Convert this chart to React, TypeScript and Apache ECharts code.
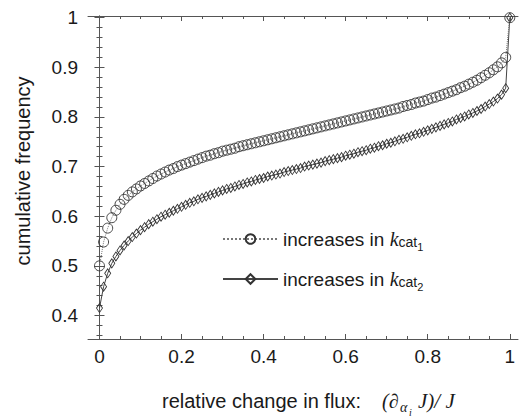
import React, { useEffect, useRef } from "react";
import * as echarts from "echarts";

const XS = [
  0, 0.01, 0.02, 0.03, 0.04, 0.05, 0.06, 0.07, 0.08, 0.09,
  0.1, 0.11, 0.12, 0.13, 0.14, 0.15, 0.16, 0.17, 0.18, 0.19,
  0.2, 0.21, 0.22, 0.23, 0.24, 0.25, 0.26, 0.27, 0.28, 0.29,
  0.3, 0.31, 0.32, 0.33, 0.34, 0.35, 0.36, 0.37, 0.38, 0.39,
  0.4, 0.41, 0.42, 0.43, 0.44, 0.45, 0.46, 0.47, 0.48, 0.49,
  0.5, 0.51, 0.52, 0.53, 0.54, 0.55, 0.56, 0.57, 0.58, 0.59,
  0.6, 0.61, 0.62, 0.63, 0.64, 0.65, 0.66, 0.67, 0.68, 0.69,
  0.7, 0.71, 0.72, 0.73, 0.74, 0.75, 0.76, 0.77, 0.78, 0.79,
  0.8, 0.81, 0.82, 0.83, 0.84, 0.85, 0.86, 0.87, 0.88, 0.89,
  0.9, 0.91, 0.92, 0.93, 0.94, 0.95, 0.96, 0.97, 0.98, 0.99,
  1,
];

const CIRCLES = [
  0.5, 0.548, 0.576, 0.597, 0.612, 0.624, 0.634, 0.642, 0.649, 0.655,
  0.661, 0.666, 0.671, 0.676, 0.681, 0.685, 0.689, 0.693, 0.696, 0.7,
  0.703, 0.706, 0.709, 0.712, 0.715, 0.718, 0.721, 0.723, 0.726, 0.728,
  0.731, 0.733, 0.735, 0.737, 0.74, 0.742, 0.744, 0.746, 0.748, 0.75,
  0.752, 0.754, 0.756, 0.758, 0.76, 0.762, 0.764, 0.766, 0.768, 0.77,
  0.772, 0.774, 0.776, 0.778, 0.78, 0.782, 0.784, 0.786, 0.788, 0.79,
  0.792, 0.794, 0.796, 0.798, 0.8, 0.802, 0.804, 0.806, 0.808, 0.81,
  0.812, 0.814, 0.816, 0.818, 0.821, 0.823, 0.825, 0.828, 0.83, 0.832,
  0.835, 0.838, 0.84, 0.843, 0.846, 0.849, 0.852, 0.855, 0.859, 0.862,
  0.866, 0.87, 0.874, 0.879, 0.884, 0.889, 0.895, 0.901, 0.909, 0.92,
  1,
];

const DIAMONDS = [
  0.415, 0.458, 0.485, 0.505, 0.519, 0.531, 0.541, 0.55, 0.558, 0.565,
  0.572, 0.578, 0.584, 0.589, 0.594, 0.599, 0.603, 0.607, 0.611, 0.615,
  0.619, 0.623, 0.627, 0.63, 0.634, 0.637, 0.64, 0.643, 0.646, 0.649,
  0.652, 0.655, 0.657, 0.66, 0.663, 0.665, 0.668, 0.67, 0.673, 0.675,
  0.677, 0.68, 0.682, 0.684, 0.686, 0.689, 0.691, 0.693, 0.695, 0.697,
  0.7, 0.702, 0.704, 0.706, 0.708, 0.711, 0.713, 0.715, 0.717, 0.719,
  0.722, 0.724, 0.726, 0.729, 0.731, 0.733, 0.736, 0.738, 0.741, 0.743,
  0.746, 0.748, 0.751, 0.754, 0.756, 0.759, 0.762, 0.765, 0.767, 0.77,
  0.773, 0.776, 0.779, 0.782, 0.785, 0.788, 0.791, 0.795, 0.798, 0.801,
  0.805, 0.808, 0.812, 0.816, 0.821, 0.826, 0.831, 0.837, 0.845, 0.858,
  1,
];

const SERIES_NAMES = ["increases in kcat1", "increases in kcat2"];
const SERIES_SUBS = ["1", "2"];

const X_LABELS = [0, 0.2, 0.4, 0.6, 0.8, 1];
const X_MINOR = [0.05, 0.1, 0.15, 0.25, 0.3, 0.35, 0.45, 0.5, 0.55, 0.65, 0.7, 0.75, 0.85, 0.9, 0.95];
const Y_LABELS = [0.4, 0.5, 0.6, 0.7, 0.8, 0.9, 1];
const Y_MINOR = [
  0.36, 0.38, 0.42, 0.44, 0.46, 0.48, 0.52, 0.54, 0.56, 0.58, 0.62, 0.64, 0.66, 0.68,
  0.72, 0.74, 0.76, 0.78, 0.82, 0.84, 0.86, 0.88, 0.92, 0.94, 0.96, 0.98,
];

const X_TITLE = "relative change in flux:";
const Y_TITLE = "cumulative frequency";

const SANS = "'Liberation Sans', Arial, Helvetica, sans-serif";
const SERIF = "'Liberation Serif', 'Times New Roman', serif";
const TEXT = "#1a1a1a";
const AXIS = "#555";

const X_MIN = -0.028;
const X_MAX = 1.02;
const Y_MIN = 0.3526;
const Y_MAX = 1.0034;

const GRID = { left: 88, right: 2, top: 16, bottom: 80 };

function xAxis(gridIndex: number, position: string, values: number[], len: number, labels: boolean, line: boolean) {
  return {
    type: "value",
    gridIndex,
    position,
    min: X_MIN,
    max: X_MAX,
    axisLine: { show: line, lineStyle: { color: AXIS, width: 1 } },
    axisTick: { show: true, inside: true, length: len, customValues: values, lineStyle: { color: AXIS, width: 1 } },
    axisLabel: labels
      ? { show: true, customValues: values, margin: 8, fontSize: 19, fontFamily: SANS, color: TEXT }
      : { show: false },
    splitLine: { show: false },
  };
}

function yAxis(gridIndex: number, position: string, values: number[], len: number, labels: boolean, line: boolean) {
  return {
    type: "value",
    gridIndex,
    position,
    min: Y_MIN,
    max: Y_MAX,
    axisLine: { show: line, lineStyle: { color: AXIS, width: 1 } },
    axisTick: { show: true, inside: true, length: len, customValues: values, lineStyle: { color: AXIS, width: 1 } },
    axisLabel: labels
      ? { show: true, customValues: values, margin: 10, fontSize: 19, fontFamily: SANS, color: TEXT }
      : { show: false },
    splitLine: { show: false },
  };
}

export default function App() {
  const ref = useRef<HTMLDivElement>(null);

  useEffect(() => {
    if (!ref.current) return;
    const chart = echarts.init(ref.current, null, { renderer: "svg" });

    const circleData = XS.map((x, i) => [x, CIRCLES[i]]);
    const diamondData = XS.map((x, i) => [x, DIAMONDS[i]]);

    const mathStyle = (text: string, size: number) => ({
      text,
      fontSize: size,
      fontFamily: SERIF,
      fontStyle: "italic",
      fill: TEXT,
      align: "left",
      verticalAlign: "middle",
      textAlign: "left",
      textVerticalAlign: "middle",
    });

    chart.setOption({
      animation: false,
      backgroundColor: "#fff",
      grid: [
        { ...GRID, containLabel: false },
        { ...GRID, containLabel: false },
      ],
      xAxis: [
        xAxis(0, "bottom", X_LABELS, 5, true, true),
        xAxis(0, "top", X_LABELS, 5, false, true),
        xAxis(1, "bottom", X_MINOR, 3, false, false),
        xAxis(1, "top", X_MINOR, 3, false, false),
      ],
      yAxis: [
        yAxis(0, "left", Y_LABELS, 5, true, true),
        yAxis(0, "right", Y_LABELS, 5, false, true),
        yAxis(1, "left", Y_MINOR, 3, false, false),
        yAxis(1, "right", Y_MINOR, 3, false, false),
      ],
      legend: {
        orient: "vertical",
        left: 222,
        top: 229,
        padding: 0,
        itemGap: 17,
        itemWidth: 55,
        itemHeight: 12,
        data: SERIES_NAMES,
        formatter: (name: string) => {
          const idx = SERIES_NAMES.indexOf(name);
          return `increases in {k|k}{c|cat}{s|${SERIES_SUBS[idx]}}`;
        },
        textStyle: {
          fontSize: 19,
          fontFamily: SANS,
          color: TEXT,
          rich: {
            k: { fontSize: 20, fontFamily: SERIF, fontStyle: "italic", color: TEXT },
            c: { fontSize: 14, fontFamily: SANS, color: TEXT, padding: [6, 0, 0, 0] },
            s: { fontSize: 11, fontFamily: SANS, color: TEXT, padding: [15, 0, 0, 0] },
          },
        },
      },
      series: [
        {
          name: SERIES_NAMES[0],
          type: "line",
          xAxisIndex: 0,
          yAxisIndex: 0,
          data: circleData,
          clip: false,
          symbol: "circle",
          symbolSize: 10,
          showAllSymbol: true,
          lineStyle: { color: "#777", width: 1, type: "dotted" },
          itemStyle: { color: "rgba(255,255,255,0)", borderColor: "#333", borderWidth: 0.9 },
          emphasis: { disabled: true },
          z: 3,
        },
        {
          name: SERIES_NAMES[1],
          type: "line",
          xAxisIndex: 0,
          yAxisIndex: 0,
          data: diamondData,
          clip: false,
          symbol: "diamond",
          symbolSize: [6, 9],
          showAllSymbol: true,
          lineStyle: { color: "#444", width: 1, type: "solid" },
          itemStyle: { color: "rgba(255,255,255,0)", borderColor: "#333", borderWidth: 0.9 },
          emphasis: { disabled: true },
          z: 2,
        },
      ],
      graphic: [
        {
          type: "text",
          x: 23,
          y: 171,
          rotation: Math.PI / 2,
          style: {
            text: Y_TITLE,
            fontSize: 20,
            fontFamily: SANS,
            fill: TEXT,
            align: "center",
            verticalAlign: "middle",
            textAlign: "center",
            textVerticalAlign: "middle",
          },
        },
        {
          type: "text",
          x: 162,
          y: 401,
          style: {
            text: X_TITLE,
            fontSize: 20,
            fontFamily: SANS,
            fill: TEXT,
            align: "left",
            verticalAlign: "middle",
            textAlign: "left",
            textVerticalAlign: "middle",
          },
        },
        { type: "text", x: 382, y: 401, style: mathStyle("(\u2202", 20) },
        { type: "text", x: 400, y: 407, style: mathStyle("\u03b1", 14) },
        { type: "text", x: 409, y: 412, style: mathStyle("i", 10) },
        { type: "text", x: 418, y: 401, style: mathStyle("J)/ J", 21) },
      ],
    });

    return () => {
      chart.dispose();
    };
  }, []);

  return (
    <div
      ref={ref}
      style={{ position: "absolute", left: 0, top: 0, width: 520, height: 419 }}
    />
  );
}
